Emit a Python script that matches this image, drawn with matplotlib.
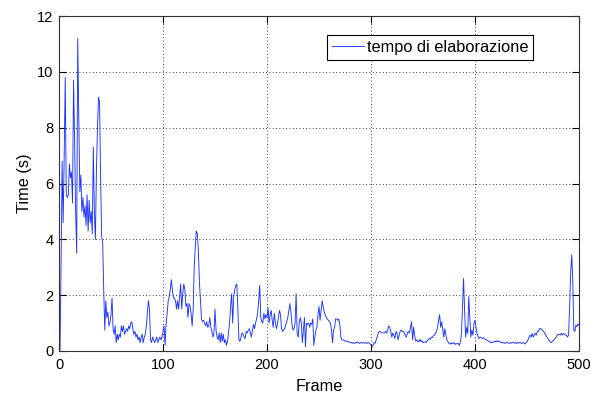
import numpy as np
import matplotlib
matplotlib.use("Agg")
import matplotlib.pyplot as plt

# frame index and processing time (s)
frames = np.arange(1, 501)

time_1_50 = [0.05, 3.1, 6.8, 4.6, 7.0, 9.8, 5.6, 5.5, 5.6, 6.7,
             6.2, 6.4, 5.3, 9.7, 7.6, 5.0, 3.5, 11.2, 8.3, 5.7,
             6.3, 5.0, 5.5, 4.8, 5.2, 4.5, 5.6, 4.3, 5.4, 4.6,
             5.0, 4.2, 7.3, 5.0, 4.0, 6.5, 8.0, 9.1, 8.9, 6.2,
             4.1, 3.9, 2.2, 0.75, 1.8, 1.2, 1.4, 0.9, 1.0, 1.3]
time_51_100 = [1.9, 0.8, 0.6, 0.9, 0.3, 0.6, 0.4, 0.6, 0.5, 0.9,
               0.7, 0.9, 0.6, 0.7, 0.8, 0.7, 0.9, 0.8, 1.0, 1.05,
               0.8, 0.6, 0.7, 0.5, 0.6, 0.4, 0.5, 0.3, 0.5, 0.6,
               0.3, 0.5, 0.6, 0.9, 1.4, 1.8, 1.5, 0.4, 0.3, 0.5,
               0.4, 0.3, 0.4, 0.5, 0.3, 0.4, 0.5, 0.4, 0.5, 0.7]
time_101_150 = [0.9, 0.2, 1.0, 1.35, 1.8, 1.95, 2.2, 2.55, 2.2, 1.9,
                1.9, 1.8, 1.5, 1.8, 1.5, 1.95, 2.4, 1.5, 2.05, 2.4,
                2.2, 1.6, 1.7, 1.2, 1.7, 1.6, 1.35, 0.9, 1.45, 3.0,
                3.7, 4.3, 4.2, 3.6, 2.5, 1.8, 1.15, 1.05, 1.1, 1.0,
                0.9, 1.05, 0.85, 0.9, 1.2, 0.85, 0.7, 0.5, 0.65, 1.5]
time_151_200 = [0.75, 0.5, 0.4, 0.65, 0.3, 0.65, 0.35, 0.6, 0.3, 0.4,
                0.2, 0.35, 0.65, 1.0, 1.6, 2.05, 1.0, 1.95, 2.2, 2.35,
                2.4, 1.5, 0.4, 0.35, 0.5, 0.65, 0.6, 0.5, 0.45, 0.7,
                0.65, 0.75, 0.8, 0.65, 0.5, 0.75, 0.95, 0.8, 1.0, 1.15,
                1.35, 1.8, 2.35, 1.2, 1.05, 1.0, 1.35, 1.15, 1.3, 1.2]
time_201_250 = [1.55, 1.0, 1.3, 1.45, 1.1, 0.85, 1.35, 1.05, 0.8, 0.95,
                1.2, 1.45, 1.3, 0.8, 0.7, 0.75, 0.8, 0.95, 1.05, 1.2,
                1.45, 1.7, 1.4, 0.95, 0.75, 0.8, 1.0, 2.05, 0.65, 0.5,
                1.0, 1.2, 1.0, 0.3, 0.75, 1.2, 0.15, 1.0, 0.95, 1.0,
                0.85, 1.0, 0.95, 1.15, 0.2, 0.5, 0.75, 0.85, 1.3, 1.6]
time_251_300 = [1.1, 1.45, 1.8, 1.6, 1.4, 1.3, 1.2, 1.15, 1.1, 1.05,
                1.0, 0.75, 0.3, 0.75, 0.85, 1.15, 1.15, 1.1, 1.15, 0.95,
                0.5, 0.4, 0.4, 0.38, 0.35, 0.36, 0.33, 0.35, 0.32, 0.3,
                0.31, 0.28, 0.3, 0.27, 0.3, 0.29, 0.32, 0.3, 0.27, 0.29,
                0.31, 0.28, 0.3, 0.28, 0.3, 0.27, 0.3, 0.29, 0.26, 0.22]
time_301_350 = [0.15, 0.2, 0.3, 0.28, 0.4, 0.5, 0.65, 0.7, 0.7, 0.65,
                0.65, 0.65, 0.65, 0.7, 0.65, 0.75, 0.9, 0.85, 0.7, 0.5,
                0.65, 0.55, 0.45, 0.7, 0.65, 0.4, 0.55, 0.7, 0.75, 0.7,
                0.7, 0.65, 0.55, 0.5, 0.65, 0.7, 0.65, 0.85, 1.05, 0.4,
                0.85, 0.55, 0.35, 0.4, 0.35, 0.33, 0.42, 0.33, 0.37, 0.3]
time_351_400 = [0.32, 0.33, 0.3, 0.37, 0.4, 0.45, 0.42, 0.5, 0.48, 0.55,
                0.57, 0.63, 0.7, 0.85, 1.1, 1.3, 0.85, 1.05, 0.75, 0.5,
                0.8, 0.57, 0.4, 0.33, 0.27, 0.25, 0.3, 0.25, 0.3, 0.27,
                0.24, 0.27, 0.25, 0.27, 0.2, 0.33, 0.63, 1.6, 2.6, 1.45,
                0.5, 0.85, 0.63, 1.95, 1.2, 0.5, 0.75, 0.57, 1.0, 1.1]
time_401_450 = [0.85, 0.63, 0.5, 0.45, 0.5, 0.48, 0.45, 0.48, 0.44, 0.42,
                0.4, 0.37, 0.35, 0.33, 0.3, 0.32, 0.3, 0.33, 0.35, 0.32,
                0.37, 0.34, 0.36, 0.33, 0.3, 0.32, 0.28, 0.3, 0.27, 0.3,
                0.32, 0.29, 0.27, 0.3, 0.28, 0.3, 0.32, 0.28, 0.3, 0.27,
                0.3, 0.28, 0.31, 0.29, 0.27, 0.3, 0.28, 0.25, 0.3, 0.33]
time_451_500 = [0.4, 0.5, 0.57, 0.5, 0.63, 0.5, 0.57, 0.63, 0.57, 0.7,
                0.7, 0.8, 0.8, 0.78, 0.73, 0.7, 0.63, 0.57, 0.5, 0.45,
                0.4, 0.33, 0.3, 0.33, 0.37, 0.4, 0.45, 0.5, 0.57, 0.6,
                0.6, 0.57, 0.63, 0.57, 0.63, 0.6, 0.57, 0.55, 0.5, 0.57,
                1.6, 2.8, 3.45, 2.55, 0.75, 0.7, 0.93, 0.87, 0.97, 0.93]

times = (time_1_50 + time_51_100 + time_101_150 + time_151_200 + time_201_250
         + time_251_300 + time_301_350 + time_351_400 + time_401_450 + time_451_500)

plt.rcParams['font.family'] = ['Liberation Sans', 'DejaVu Sans']
plt.rcParams['font.size'] = 10.5

fig = plt.figure(figsize=(6.02, 3.93), dpi=100)
ax = fig.add_axes([59 / 602, 42 / 393, 520 / 602, 335 / 393])

ax.plot(frames, times, color=(0.1, 0.2, 1.0), lw=0.65, label='tempo di elaborazione')

ax.set_xlim(0, 500)
ax.set_ylim(0, 12)
ax.set_xticks(range(0, 501, 100))
ax.set_yticks(range(0, 13, 2))
ax.grid(True, color='black', linestyle=(0, (1, 3)), linewidth=0.6)
ax.tick_params(direction='in', length=5, width=0.8, top=True, right=True)
ax.tick_params(axis='x', pad=5)
ax.tick_params(axis='y', pad=4)
for s in ax.spines.values():
    s.set_linewidth(0.8)
    s.set_color('#333333')

ax.set_xlabel('Frame', fontsize=11.7, labelpad=5)
ax.set_ylabel('Time (s)', fontsize=11.7, labelpad=4)

leg = ax.legend(loc='upper right', bbox_to_anchor=(0.9115, 0.943), borderaxespad=0,
                fancybox=False, framealpha=1, edgecolor='black', fontsize=11.8,
                handlelength=1.95, handletextpad=0.15, borderpad=0.3)
leg.get_frame().set_linewidth(0.8)

fig.savefig('out.png', dpi=100)
